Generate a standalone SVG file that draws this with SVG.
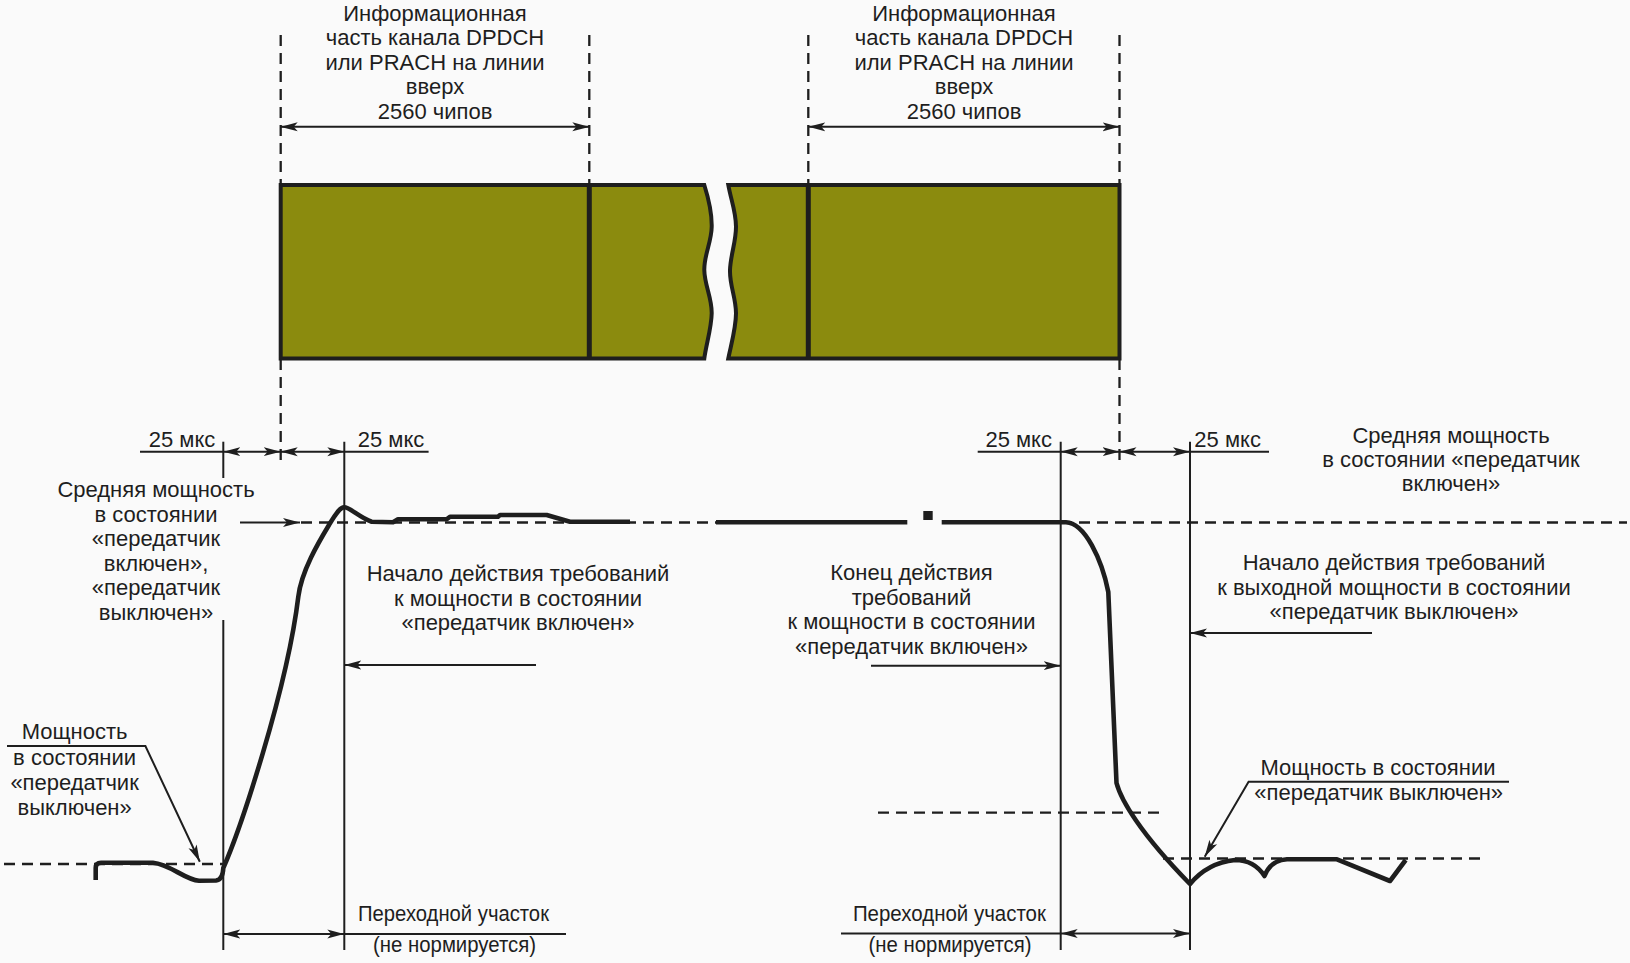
<svg xmlns="http://www.w3.org/2000/svg" width="1630" height="963" viewBox="0 0 1630 963">
<defs>
<marker id="ah" viewBox="0 0 17 10" refX="17" refY="5" markerWidth="17" markerHeight="10" markerUnits="userSpaceOnUse" orient="auto-start-reverse"><path d="M0,0.5 L17,5 L0,9.5 L4,5 Z" fill="#1e1e1e"/></marker>
</defs>
<style>
.t{font-family:"Liberation Sans",Arial,sans-serif;font-size:22px;fill:#1e1e1e;text-anchor:middle}
.ln{stroke:#1e1e1e;stroke-width:2;fill:none}
.ds{stroke:#1e1e1e;stroke-width:2.3;fill:none;stroke-dasharray:11 7}
.sig{stroke:#1e1e1e;stroke-width:4.6;fill:none;stroke-linejoin:round;stroke-linecap:butt}
.arr{stroke:#1e1e1e;stroke-width:2;fill:none;marker-end:url(#ah)}
.darr{stroke:#1e1e1e;stroke-width:2;fill:none;marker-start:url(#ah);marker-end:url(#ah)}
.blk{fill:#8b8b0e;stroke:#1e1e1e;stroke-width:4;stroke-linejoin:miter}
</style>
<rect x="0" y="0" width="1630" height="963" fill="#fafafa"/>

<g id="guides">
<line class="ds" x1="280.7" y1="35" x2="280.7" y2="463"/>
<line class="ds" x1="589.3" y1="35" x2="589.3" y2="190"/>
<line class="ds" x1="808.3" y1="35" x2="808.3" y2="190"/>
<line class="ds" x1="1119.5" y1="35" x2="1119.5" y2="463"/>
<line class="ds" x1="301" y1="522.5" x2="716" y2="522.5"/>
<line class="ds" x1="1061" y1="522.5" x2="1627" y2="522.5"/>
<line class="ds" x1="4" y1="864" x2="223" y2="864"/>
<line class="ds" x1="878" y1="812.7" x2="1166" y2="812.7"/>
<line class="ds" x1="1163" y1="858.5" x2="1482" y2="858.5"/>
</g>

<g id="block">
<path class="blk" d="M280.7,185 L704.3,185 C709,200 712,212 711.7,226.7 C711.5,242 704,255 704.3,270 C704.5,285 712,298 711.7,313.3 C711.5,328 706,345 704.3,358.5 L280.7,358.5 Z"/>
<path class="blk" d="M728.3,185 L1119.5,185 L1119.5,358.5 L728.3,358.5 C731,345 736,328 736,313.3 C736,298 729.5,285 730,270 C730.5,255 736,242 736,226.7 C736,212 731,200 728.3,185 Z"/>
<line x1="589.3" y1="185" x2="589.3" y2="358.5" stroke="#1e1e1e" stroke-width="5"/>
<line x1="808.3" y1="185" x2="808.3" y2="358.5" stroke="#1e1e1e" stroke-width="5"/>
</g>

<g id="label-top-1">
<text class="t" x="435" y="21">Информационная</text>
<text class="t" x="435" y="45.4">часть канала DPDCH</text>
<text class="t" x="435" y="69.8">или PRACH на линии</text>
<text class="t" x="435" y="94.1">вверх</text>
<text class="t" x="435" y="118.5">2560 чипов</text>
</g>
<g id="label-top-2">
<text class="t" x="964" y="21">Информационная</text>
<text class="t" x="964" y="45.4">часть канала DPDCH</text>
<text class="t" x="964" y="69.8">или PRACH на линии</text>
<text class="t" x="964" y="94.1">вверх</text>
<text class="t" x="964" y="118.5">2560 чипов</text>
</g>

<g id="timing-labels">
<text class="t" x="182" y="446.5">25 мкс</text>
<text class="t" x="391" y="446.5">25 мкс</text>
<text class="t" x="1018.7" y="446.5">25 мкс</text>
<text class="t" x="1227.6" y="446.5">25 мкс</text>
</g>

<g id="label-avg-left">
<text class="t" x="156" y="497">Средняя мощность</text>
<text class="t" x="156" y="521.5">в состоянии</text>
<text class="t" x="156" y="546">«передатчик</text>
<text class="t" x="156" y="570.5">включен»,</text>
<text class="t" x="156" y="595">«передатчик</text>
<text class="t" x="156" y="619.5">выключен»</text>
</g>

<g id="label-start-on">
<text class="t" x="518" y="581">Начало действия требований</text>
<text class="t" x="518" y="605.5">к мощности в состоянии</text>
<text class="t" x="518" y="630">«передатчик включен»</text>
</g>

<g id="label-end-on">
<text class="t" x="911.5" y="580">Конец действия</text>
<text class="t" x="911.5" y="604.5">требований</text>
<text class="t" x="911.5" y="629">к мощности в состоянии</text>
<text class="t" x="911.5" y="653.5">«передатчик включен»</text>
</g>

<g id="label-avg-right">
<text class="t" x="1451" y="443">Средняя мощность</text>
<text class="t" x="1451" y="467">в состоянии «передатчик</text>
<text class="t" x="1451" y="490.5">включен»</text>
</g>

<g id="label-start-off">
<text class="t" x="1394" y="570">Начало действия требований</text>
<text class="t" x="1394" y="594.5">к выходной мощности в состоянии</text>
<text class="t" x="1394" y="619">«передатчик выключен»</text>
</g>

<g id="label-off-left">
<text class="t" x="74.6" y="739">Мощность</text>
<text class="t" x="74.6" y="764.5">в состоянии</text>
<text class="t" x="74.6" y="790">«передатчик</text>
<text class="t" x="74.6" y="815">выключен»</text>
</g>

<g id="label-off-right">
<text class="t" x="1378" y="775">Мощность в состоянии</text>
<text class="t" x="1378.7" y="800">«передатчик выключен»</text>
</g>

<g id="label-trans-left">
<text class="t" x="453.5" y="921" textLength="191" lengthAdjust="spacingAndGlyphs">Переходной участок</text>
<text class="t" x="454.5" y="952" textLength="163" lengthAdjust="spacingAndGlyphs">(не нормируется)</text>
</g>
<g id="label-trans-right">
<text class="t" x="949.4" y="921" textLength="193" lengthAdjust="spacingAndGlyphs">Переходной участок</text>
<text class="t" x="950" y="952" textLength="163" lengthAdjust="spacingAndGlyphs">(не нормируется)</text>
</g>

<g id="connectors">
<line class="darr" x1="280.7" y1="126.8" x2="589.3" y2="126.8"/>
<line class="darr" x1="808.3" y1="126.8" x2="1119.5" y2="126.8"/>

<line class="ln" x1="140" y1="451.7" x2="223.3" y2="451.7"/>
<line class="darr" x1="223.3" y1="451.7" x2="280.7" y2="451.7"/>
<line class="darr" x1="280.7" y1="451.7" x2="344.3" y2="451.7"/>
<line class="ln" x1="344.3" y1="451.7" x2="428.6" y2="451.7"/>

<line class="ln" x1="977.7" y1="451.7" x2="1060.7" y2="451.7"/>
<line class="darr" x1="1060.7" y1="451.7" x2="1119.5" y2="451.7"/>
<line class="darr" x1="1119.5" y1="451.7" x2="1190" y2="451.7"/>
<line class="ln" x1="1190" y1="451.7" x2="1269" y2="451.7"/>

<line class="ln" x1="223.3" y1="441.7" x2="223.3" y2="478"/>
<line class="ln" x1="223.3" y1="620" x2="223.3" y2="950"/>
<line class="ln" x1="344.3" y1="441.7" x2="344.3" y2="950"/>
<line class="ln" x1="1060.7" y1="441.7" x2="1060.7" y2="950"/>
<line class="ln" x1="1190" y1="441.7" x2="1190" y2="950"/>

<line class="arr" x1="240" y1="522.5" x2="300" y2="522.5"/>
<line class="arr" x1="536" y1="665" x2="344.3" y2="665"/>
<line class="arr" x1="871" y1="665.7" x2="1060.7" y2="665.7"/>
<line class="arr" x1="1372" y1="633" x2="1190" y2="633"/>

<polyline class="arr" points="7,746 145.4,746 199.8,861.7"/>
<polyline class="arr" points="1509,781.7 1248.6,781.7 1204.7,856.7"/>

<line class="darr" x1="223.3" y1="934" x2="344.3" y2="934"/>
<line class="ln" x1="344.3" y1="934" x2="566" y2="934"/>
<line class="ln" x1="841" y1="933.5" x2="1060.7" y2="933.5"/>
<line class="darr" x1="1060.7" y1="933.5" x2="1190" y2="933.5"/>
</g>

<g id="signal">
<path class="sig" d="M95.7,880 L95.7,868 Q95.7,862.7 101,862.7 L153,862.7 C170,864 185,880 199,880.7 L216,880.5 C221,880 223,875 223.3,868 C240,830 287,690 298.3,596.7 C301.5,570 320,540 330,523.3 C336,513.6 340,507.3 344.3,507.3 C350,507.3 360,518 371.7,521.7 L393,522.3 L398,519.3 L446.7,519.3 L450,516.7 L498,516.7 L500,515 L546.7,515 L570,521.7 L630,521.7"/>
<line class="sig" x1="716" y1="522.3" x2="907.3" y2="522.3"/>
<rect x="923.3" y="511" width="9.4" height="9" fill="#1e1e1e"/>
<path class="sig" d="M941.7,522.3 L1066,522.3 C1085,523 1102,560 1108.3,592 L1116.5,783 C1121,800 1140,833 1190,884 C1200,872 1215,862 1235,860 C1248,860 1258,866 1264.5,876 C1268,867 1275,860 1287,859.3 L1337,859.3 L1390,881 L1405.7,860"/>
</g>
</svg>
